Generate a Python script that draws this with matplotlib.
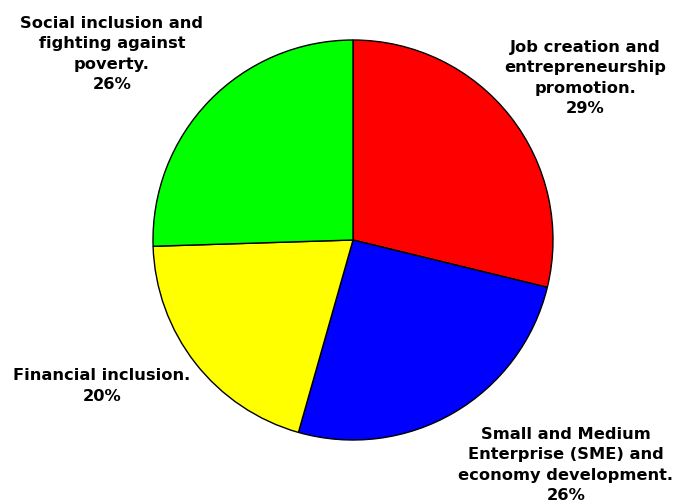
import matplotlib.pyplot as plt

# share of each area (%), clockwise from 12 o'clock
labels = ["Job creation and\nentrepreneurship\npromotion.",
          "Small and Medium\nEnterprise (SME) and\neconomy development.",
          "Financial inclusion.",
          "Social inclusion and\nfighting against\npoverty."]
values = [28.8, 25.6, 20.1, 25.5]
colors = ["#ff0000", "#0000ff", "#ffff00", "#00ff00"]

W, H = 679, 500
fig = plt.figure(figsize=(W / 100, H / 100), dpi=100)
ax = fig.add_axes([0, 0, 1, 1])

ax.pie(values, colors=colors, startangle=90, counterclock=False,
       center=(353, 260), radius=200,
       wedgeprops=dict(edgecolor="black", linewidth=1))
ax.set_xlim(0, W)
ax.set_ylim(0, H)
ax.set_aspect("auto")
ax.axis("off")

# label block centres, pixels from top-left
label_pos = [(585, 78), (566, 465), (102, 386), (112, 54)]
total = sum(values)
for lab, v, (x, y) in zip(labels, values, label_pos):
    ax.text(x, H - y, f"{lab}\n{round(v / total * 100)}%",
            ha="center", va="center", fontsize=11.7, fontweight="bold",
            family="DejaVu Sans", linespacing=1.42)

fig.savefig("out.png", dpi=100)
